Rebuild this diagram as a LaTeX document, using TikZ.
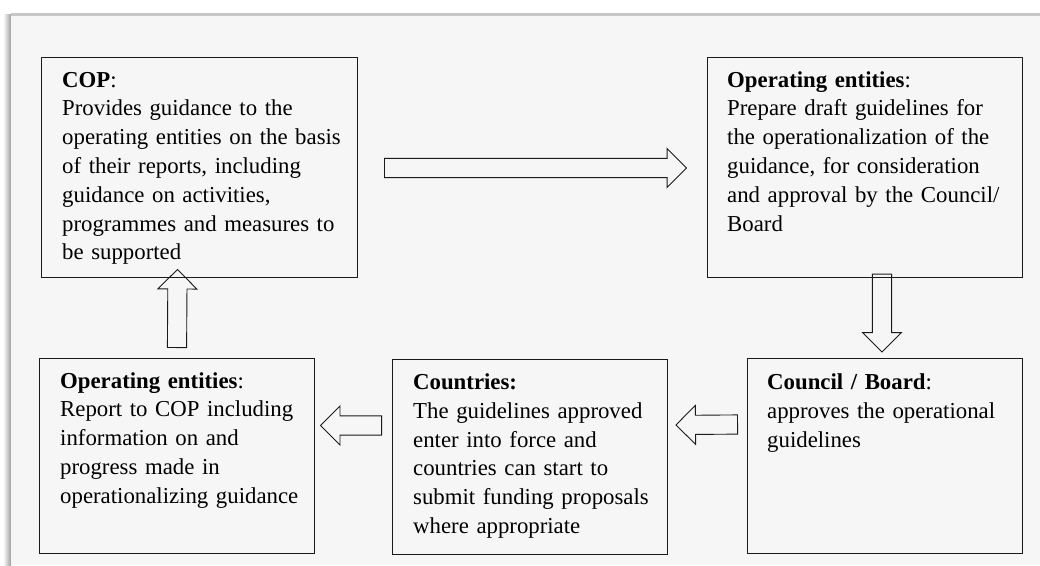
\documentclass[tikz,border=0pt]{standalone}
\usepackage{fontspec}
\setmainfont{Liberation Serif}
\usetikzlibrary{calc}
\definecolor{panel}{HTML}{F6F6F6}
\definecolor{edge}{HTML}{1A1A1A}
\tikzset{
  boxst/.style={draw=edge, line width=0.9pt, rectangle, inner sep=0pt},
  txt/.style={anchor=base west, inner sep=0pt, text width=300pt, align=left,
    font=\fontsize{22.8}{28.8}\selectfont, text=black},
  barrow/.style={draw=edge, line width=0.9pt,
    to path={let \p1=($(\tikztotarget)!19.5pt!(\tikztostart)$) in
      ($(\tikztostart)!9.6pt!90:(\tikztotarget)$)
      -- ($(\p1)!9.6pt!90:(\tikztotarget)$)
      -- ($(\p1)!19.5pt!90:(\tikztotarget)$)
      -- (\tikztotarget)
      -- ($(\p1)!19.5pt!-90:(\tikztotarget)$)
      -- ($(\p1)!9.6pt!-90:(\tikztotarget)$)
      -- ($(\tikztostart)!9.6pt!-90:(\tikztotarget)$)
      -- cycle}}
}
\begin{document}
\begin{tikzpicture}[x=1pt, y=-1pt]
\useasboundingbox (0,0) rectangle (1040,565);
% panel
\fill[white] (0,0) rectangle (1040,565);
\shade[left color=white, right color=black!38] (3,14) rectangle (11,565);
\fill[black!22] (11,12.5) rectangle (1040,15.5);
\fill[panel] (11,15.5) rectangle (1040,565);
% boxes
\node[boxst, minimum width=316pt, minimum height=220pt] (cop) at (199,167) {};
\node[boxst, minimum width=315pt, minimum height=220pt] (opt) at (864.5,167) {};
\node[boxst, minimum width=275pt, minimum height=195pt] (opb) at (176.5,455.5) {};
\node[boxst, minimum width=275pt, minimum height=195pt] (cty) at (529.5,456.5) {};
\node[boxst, minimum width=275pt, minimum height=195pt] (cnb) at (884.5,455.5) {};
% texts
\node[txt] (copt) at (62,87) {\textbf{COP}:\\Provides guidance to the\\operating entities on the basis\\of their reports, including\\guidance on activities,\\programmes and measures to\\be supported};
\node[txt] (optt) at (727,87) {\textbf{Operating entities}:\\Prepare draft guidelines for\\the operationalization of the\\guidance, for consideration\\and approval by the Council/\\Board};
\node[txt] (opbt) at (60,388) {\textbf{Operating entities}:\\Report to COP including\\information on and\\progress made in\\operationalizing guidance};
\node[txt] (ctyt) at (413,389.5) {\textbf{Countries:}\\The guidelines approved\\enter into force and\\countries can start to\\submit funding proposals\\where appropriate};
\node[txt] (cnbt) at (767,389.5) {\textbf{Council / Board}:\\approves the operational\\guidelines};
% arrow ends
\coordinate (a1s) at ($(cop.east)+(27,1)$);
\coordinate (a1e) at ($(opt.west)+(-20,1)$);
\coordinate (a2s) at ($(cnb.north)+(-2.5,-83.5)$);
\coordinate (a2e) at ($(cnb.north)+(-2.5,-5.5)$);
\coordinate (a3s) at ($(cnb.west)+(-9,-31)$);
\coordinate (a3e) at ($(cty.east)+(8.5,-31.5)$);
\coordinate (a4s) at ($(cty.west)+(-10,-31)$);
\coordinate (a4e) at ($(opb.east)+(6,-30)$);
\coordinate (a5s) at ($(opb.north)+(0.5,-10)$);
\coordinate (a5e) at ($(cop.south)+(-21.5,-8)$);
% block arrows
\draw[barrow] (a1s) to (a1e);
\draw[barrow] (a2s) to (a2e);
\draw[barrow] (a3s) to (a3e);
\draw[barrow] (a4s) to (a4e);
\draw[barrow] (a5s) to (a5e);
\end{tikzpicture}
\end{document}
